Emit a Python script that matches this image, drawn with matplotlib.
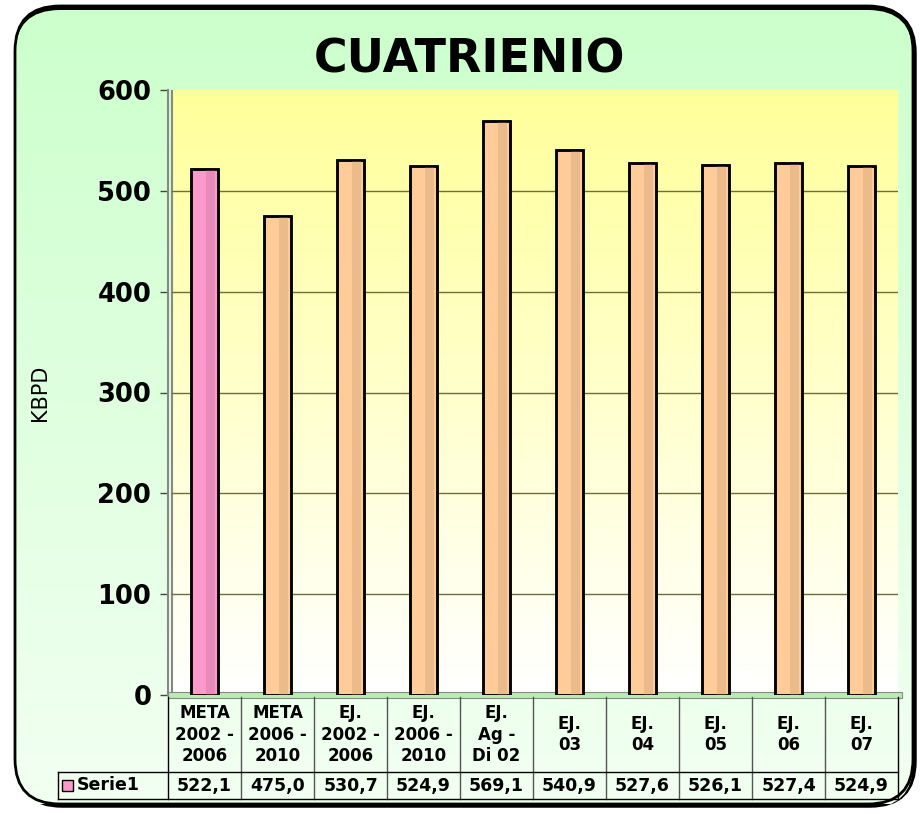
import numpy as np
import matplotlib
matplotlib.use("Agg")
import matplotlib.pyplot as plt
from matplotlib.patches import FancyBboxPatch, Rectangle
import matplotlib.transforms as mtransforms

plt.rcParams['font.family'] = ['DejaVu Sans']

# data
categories = ["META\n2002 -\n2006", "META\n2006 -\n2010", "EJ.\n2002 -\n2006", "EJ.\n2006 -\n2010",
              "EJ.\nAg -\nDi 02", "EJ.\n03", "EJ.\n04", "EJ.\n05", "EJ.\n06", "EJ.\n07"]
values = [522.1, 475.0, 530.7, 524.9, 569.1, 540.9, 527.6, 526.1, 527.4, 524.9]
value_labels = ["522,1", "475,0", "530,7", "524,9", "569,1", "540,9", "527,6", "526,1", "527,4", "524,9"]
series_name = "Serie1"
yticks = [0, 100, 200, 300, 400, 500, 600]

W, H = 921, 814
fig = plt.figure(figsize=(W / 100, H / 100), dpi=100)

# outer rounded frame with green gradient
bg = fig.add_axes([0, 0, 1, 1], zorder=-10)
bg.set_xlim(0, W)
bg.set_ylim(H, 0)
bg.axis("off")
grad = np.linspace(0, 1, 256).reshape(-1, 1)
green = np.array([0.80, 1.0, 0.80])
pale = np.array([0.95, 1.0, 0.95])
img = green + (pale - green) * grad[..., None] * np.ones((1, 1, 3))
shadow = FancyBboxPatch((17, 8), 898, 798, boxstyle="round,pad=0,rounding_size=45",
                        fc="black", ec="black", lw=2.5)
bg.add_patch(shadow)
frame = FancyBboxPatch((15, 6), 898, 798, boxstyle="round,pad=0,rounding_size=45",
                       fc="none", ec="black", lw=2)
im = bg.imshow(img, extent=(15, 913, 804, 6), aspect="auto", zorder=1)
im.set_clip_path(frame)
bg.add_patch(frame)
frame.set_zorder(2)

# main plot area
x0, x1, ytop, ybot = 168, 898, 90, 695
ax = fig.add_axes([x0 / W, 1 - ybot / H, (x1 - x0) / W, (ybot - ytop) / H])
ax.set_facecolor("none")
n = len(values)
ax.set_xlim(-0.5, n - 0.5)
ax.set_ylim(0, 600)

wall = np.array([1.0, 1.0, 0.6]) + (np.array([1.0, 1.0, 1.0]) - np.array([1.0, 1.0, 0.6])) * grad[..., None] * np.ones((1, 1, 3))
ax.imshow(wall, extent=(-0.5 + 0.06, n - 0.5 + 0.06, 0, 603), aspect="auto", zorder=0)
ax.add_patch(Rectangle((-0.5 + 0.06, 0), n + 0.0, 603, fc="none", ec="#888888", lw=1.5, zorder=1))
ax.add_patch(Rectangle((-0.5, -3), n + 0.06, 6, fc="#b8ecb0", ec="#888888", lw=0.8, zorder=1, clip_on=False))

for t in yticks[1:-1]:
    ax.plot([-0.44, n - 0.44], [t, t], color="#6e6e3a", lw=1.0, zorder=1)

x = np.arange(n)
colors = ["#ff99cc"] + ["#ffcc99"] * (n - 1)
shade = ["#e88bbb"] + ["#ebbb8c"] * (n - 1)
bw = 0.38
ax.bar(x, values, width=bw, color=colors, edgecolor="black", lw=1.8, zorder=3)
ax.bar(x + bw * 0.22, values, width=bw * 0.3, color=shade, lw=0, zorder=3)
ax.bar(x, values, width=bw, color="none", edgecolor="black", lw=1.8, zorder=4)

ax.set_yticks(yticks)
ax.set_yticklabels([str(t) for t in yticks], fontsize=18.5, fontweight="bold")
ax.tick_params(axis="y", length=6, width=1, color="#444444", pad=6)
ax.set_xticks([])
for s in ["top", "right", "bottom"]:
    ax.spines[s].set_visible(False)
ax.spines["left"].set_color("#888888")
ax.spines["left"].set_linewidth(1.5)
ax.set_ylabel("KBPD", fontsize=15, labelpad=34)

fig.text(469 / W, 1 - 60 / H, "CUATRIENIO", ha="center", va="center",
         fontsize=33, fontweight="bold")

# data table below the axes
ph = ybot - ytop
r0, r1, r2 = -2 / ph, -77 / ph, -104 / ph
tr = mtransforms.blended_transform_factory(ax.transData, ax.transAxes)
lab_left = -0.5 - 110 / 73
kw = dict(color="black", lw=1.0, transform=tr, clip_on=False, zorder=5)
for i in range(n + 1):
    xv = i - 0.5
    ax.plot([xv, xv], [r0, r2], color="#555555" if 0 < i < n else "black", lw=1.0,
            transform=tr, clip_on=False, zorder=5)
ax.plot([lab_left, lab_left], [r1, r2], **kw)
ax.plot([lab_left, n - 0.5], [r1, r1], **kw)
ax.plot([lab_left, n - 0.5], [r2, r2], **kw)

for i in range(n):
    ax.text(x[i], (r0 + r1) / 2, categories[i], transform=tr, ha="center", va="center",
            fontsize=12, fontweight="bold", linespacing=1.25)
    ax.text(x[i], (r1 + r2) / 2, value_labels[i], transform=tr, ha="center", va="center",
            fontsize=12.5, fontweight="bold")

ax.add_patch(Rectangle((lab_left + 0.06, (r1 + r2) / 2 - 0.009), 0.14, 0.018, transform=tr,
                       fc="#ff99cc", ec="black", lw=1, clip_on=False, zorder=6))
ax.text(lab_left + 0.26, (r1 + r2) / 2, series_name, transform=tr, ha="left", va="center",
        fontsize=12.5, fontweight="bold")

fig.savefig("out.png", dpi=100)
